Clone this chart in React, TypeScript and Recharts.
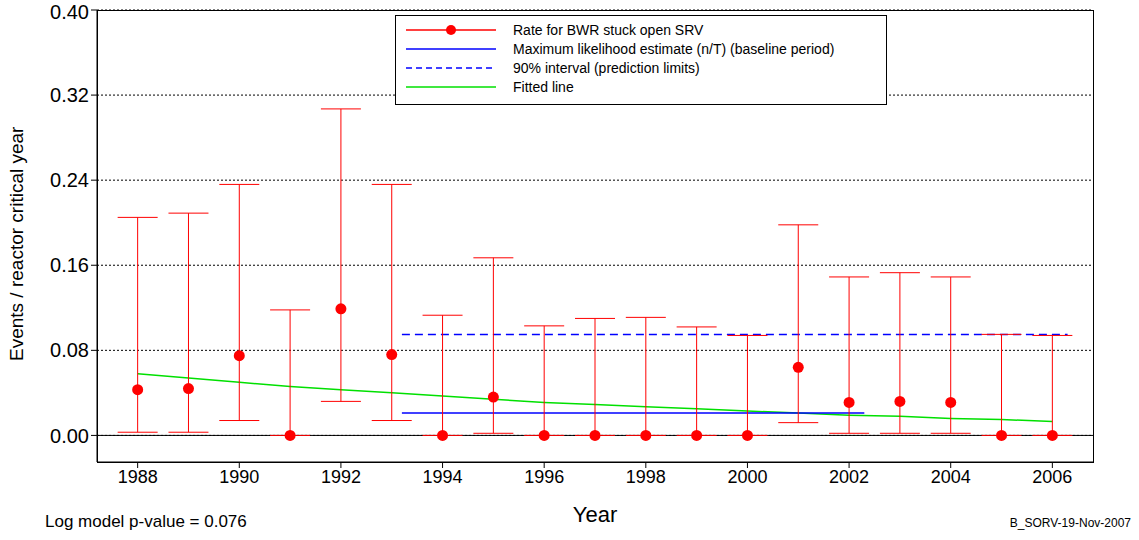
import { ComposedChart, Scatter, Line, XAxis, YAxis, CartesianGrid, ErrorBar, ReferenceLine } from "recharts";

const years = [1988, 1989, 1990, 1991, 1992, 1993, 1994, 1995, 1996, 1997, 1998, 1999, 2000, 2001, 2002, 2003, 2004, 2005, 2006];
const rates = [0.043, 0.044, 0.075, 0, 0.119, 0.076, 0, 0.036, 0, 0, 0, 0, 0, 0.064, 0.031, 0.032, 0.031, 0, 0];
const upper = [0.205, 0.209, 0.236, 0.118, 0.307, 0.236, 0.113, 0.167, 0.103, 0.110, 0.111, 0.102, 0.094, 0.198, 0.149, 0.153, 0.149, 0.095, 0.094];
const lower = [0.003, 0.003, 0.014, 0, 0.032, 0.014, 0, 0.002, 0, 0, 0, 0, 0, 0.012, 0.002, 0.002, 0.002, 0, 0];
const fitted = [0.058, 0.054, 0.050, 0.046, 0.043, 0.040, 0.037, 0.034, 0.031, 0.029, 0.027, 0.025, 0.023, 0.021, 0.019, 0.018, 0.016, 0.015, 0.013];
const mleYears = [1993.2, 2002.3];
const mleValue = 0.021;
const limitYears = [1993.2, 2006.3];
const upperLimit = 0.095;
const yTicks = [0, 0.08, 0.16, 0.24, 0.32, 0.4];
const xTicks = [1988, 1990, 1992, 1994, 1996, 1998, 2000, 2002, 2004, 2006];

const points = years.map((y, i) => ({ x: y, y: rates[i], err: [rates[i] - lower[i], upper[i] - rates[i]] }));
const fitData = years.map((y, i) => ({ x: y, y: fitted[i] }));
const mleData = mleYears.map((x) => ({ x, y: mleValue }));
const limitData = limitYears.map((x) => ({ x, y: upperLimit }));

const font = "'Liberation Sans', Arial, sans-serif";

export default function App() {
  return (
    <div style={{ position: "absolute", left: 0, top: 0, width: 1139, height: 540, background: "#fff", fontFamily: font }}>
      <ComposedChart width={1139} height={540} margin={{ top: 10, right: 46, left: 0, bottom: 48 }}>
        <CartesianGrid horizontal vertical={false} stroke="#000" strokeDasharray="2 2" horizontalValues={yTicks} />
        <XAxis
          type="number"
          dataKey="x"
          domain={[1987.2, 2006.8]}
          ticks={xTicks}
          allowDataOverflow
          tick={{ fill: "#000", fontSize: 18, fontFamily: font }}
          tickSize={6}
          stroke="#000"
          label={{ value: "Year", position: "insideBottom", offset: -30, fill: "#000", fontSize: 22, fontFamily: font }}
        />
        <YAxis
          type="number"
          dataKey="y"
          domain={[-0.025, 0.4]}
          ticks={yTicks}
          allowDataOverflow
          width={97}
          tickFormatter={(v) => v.toFixed(2)}
          tick={{ fill: "#000", fontSize: 20, fontFamily: font }}
          tickSize={6}
          stroke="#000"
          label={{ value: "Events / reactor critical year", angle: -90, position: "insideLeft", offset: 16, dy: 125, fill: "#000", fontSize: 19, fontFamily: font }}
        />
        <ReferenceLine y={0} stroke="#000" />
        <Line data={fitData} dataKey="y" stroke="#00e000" strokeWidth={1.5} dot={false} isAnimationActive={false} />
        <Line data={mleData} dataKey="y" stroke="#0000ff" strokeWidth={1.5} dot={false} isAnimationActive={false} />
        <Line data={limitData} dataKey="y" stroke="#0000ff" strokeWidth={1.5} strokeDasharray="8 5" dot={false} isAnimationActive={false} />
        <Scatter
          data={points}
          fill="#ff0000"
          isAnimationActive={false}
          shape={(p: any) => <circle cx={p.cx} cy={p.cy} r={5.5} fill="#ff0000" />}
        >
          <ErrorBar dataKey="err" direction="y" width={20} stroke="#ff0000" strokeWidth={1} />
        </Scatter>
      </ComposedChart>
      <div style={{ position: "absolute", left: 97, top: 10, width: 995, height: 451, border: "1px solid #000", pointerEvents: "none" }} />
      <div style={{ position: "absolute", left: 395, top: 15, width: 490, height: 88, border: "1px solid #000", background: "#fff", fontSize: 14 }}>
        {[
          { t: "Rate for BWR stuck open SRV", c: "#ff0000", d: false, dot: true },
          { t: "Maximum likelihood estimate (n/T) (baseline period)", c: "#0000ff", d: false },
          { t: "90% interval (prediction limits)", c: "#0000ff", d: true },
          { t: "Fitted line", c: "#00e000", d: false },
        ].map((e, i) => (
          <div key={i} style={{ position: "absolute", top: 4 + i * 19, left: 10, height: 19, display: "flex", alignItems: "center" }}>
            <svg width={90} height={12}>
              <line x1={0} y1={6} x2={90} y2={6} stroke={e.c} strokeWidth={1.5} strokeDasharray={e.d ? "6 4" : undefined} />
              {e.dot && <circle cx={45} cy={6} r={5} fill={e.c} />}
            </svg>
            <span style={{ marginLeft: 17 }}>{e.t}</span>
          </div>
        ))}
      </div>
      <div style={{ position: "absolute", left: 45, top: 512, fontSize: 17 }}>Log model p-value = 0.076</div>
      <div style={{ position: "absolute", right: 8, top: 516, fontSize: 12 }}>B_SORV-19-Nov-2007</div>
    </div>
  );
}
